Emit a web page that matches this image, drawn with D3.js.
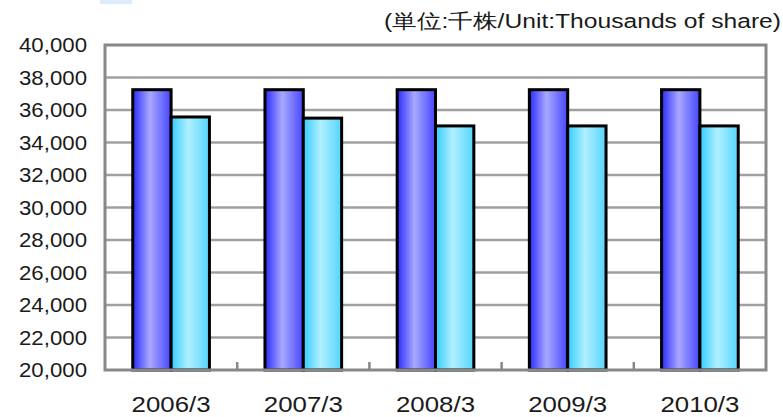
<!DOCTYPE html>
<html>
<head>
<meta charset="utf-8">
<script src="https://cdn.jsdelivr.net/npm/d3@7"></script>
<style>
  body { margin: 0; background: #fff; }
  text { font-family: "Liberation Sans", Arial, sans-serif; fill: #1a1a1a; }
</style>
</head>
<body>
<div id="chart"></div>
<script>
// Our canvas
const width = 783,
  height = 417,
  marginLeft = 105,
  marginRight = 17,
  marginTop = 45,
  marginBottom = 47

// data
const years = ['2006/3', '2007/3', '2008/3', '2009/3', '2010/3']
const issued = [37250, 37250, 37250, 37250, 37250]
const outstanding = [35570, 35500, 35020, 35020, 35020]
const yTicks = [20000, 22000, 24000, 26000, 28000, 30000, 32000, 34000, 36000, 38000, 40000]
const unitLabel = '(単位:千株/Unit:Thousands of share)'

const svg = d3.select('#chart')
  .append('svg')
  .attr('width', width)
  .attr('height', height)

// gradients for the bars
const defs = svg.append('defs')
let grad = (id, edgeL, mid, edgeR) => {
  const g = defs.append('linearGradient').attr('id', id)
    .attr('x1', '0%').attr('x2', '100%').attr('y1', '0%').attr('y2', '0%')
  g.append('stop').attr('offset', '0%').attr('stop-color', edgeL)
  g.append('stop').attr('offset', '45%').attr('stop-color', mid)
  g.append('stop').attr('offset', '100%').attr('stop-color', edgeR)
}
grad('gDark', '#2b2bff', '#a8a8ff', '#4646ff')
grad('gLight', '#33ccff', '#b0f0ff', '#55d4ff')

// small tab in the corner
svg.append('rect').attr('x', 100).attr('y', 0).attr('width', 32).attr('height', 4).attr('fill', '#dcecfb')

const x0 = d3.scaleBand()
  .domain(years)
  .range([marginLeft, width - marginRight])
  .paddingInner(0.42)
  .paddingOuter(0.21)

const x1 = d3.scaleBand()
  .domain(['issued', 'outstanding'])
  .range([0, x0.bandwidth()])

const y = d3.scaleLinear()
  .domain([20000, 40000])
  .range([height - marginBottom, marginTop])

// gridlines
svg.append('g')
  .selectAll('line')
  .data(yTicks.slice(1, -1))
  .enter()
  .append('line')
  .attr('x1', marginLeft)
  .attr('x2', width - marginRight)
  .attr('y1', d => y(d))
  .attr('y2', d => y(d))
  .attr('stroke', '#a0a0a0')
  .attr('stroke-width', 2.5)

// bars
const groups = svg.append('g')
  .selectAll('g')
  .data(years)
  .enter()
  .append('g')
  .attr('transform', d => `translate(${x0(d)},0)`)

groups.append('rect')
  .attr('x', x1('issued'))
  .attr('y', (d, i) => y(issued[i]))
  .attr('width', x1.bandwidth())
  .attr('height', (d, i) => y(20000) - y(issued[i]))
  .attr('fill', 'url(#gDark)')
  .attr('stroke', '#000')
  .attr('stroke-width', 3)

groups.append('rect')
  .attr('x', x1('outstanding'))
  .attr('y', (d, i) => y(outstanding[i]))
  .attr('width', x1.bandwidth())
  .attr('height', (d, i) => y(20000) - y(outstanding[i]))
  .attr('fill', 'url(#gLight)')
  .attr('stroke', '#000')
  .attr('stroke-width', 3)

// plot frame
svg.append('rect')
  .attr('x', marginLeft)
  .attr('y', marginTop)
  .attr('width', width - marginLeft - marginRight)
  .attr('height', height - marginTop - marginBottom)
  .attr('fill', 'none')
  .attr('stroke', '#888')
  .attr('stroke-width', 3)

// small ticks between categories
const step = x0.step()
svg.append('g')
  .selectAll('line')
  .data(years.slice(1))
  .enter()
  .append('line')
  .attr('x1', d => x0(d) - x0.paddingInner() * step / 2)
  .attr('x2', d => x0(d) - x0.paddingInner() * step / 2)
  .attr('y1', y(20000))
  .attr('y2', y(20000) - 8)
  .attr('stroke', '#888')
  .attr('stroke-width', 2.5)

// y axis labels
const yAxis = d3.axisLeft(y).tickValues(yTicks).tickSize(0).tickPadding(18)
  .tickFormat(d3.format(','))
const ya = svg.append('g')
  .attr('transform', `translate(${marginLeft},0)`)
  .call(yAxis)
ya.select('.domain').remove()
ya.selectAll('text')
  .attr('font-size', 21)
  .attr('font-family', '"Liberation Sans", Arial, sans-serif')
  .attr('fill', '#1a1a1a')
  .attr('textLength', 68)
  .attr('lengthAdjust', 'spacingAndGlyphs')

// x axis labels
const xAxis = d3.axisBottom(x0).tickSize(0).tickPadding(26)
const xa = svg.append('g')
  .attr('transform', `translate(0,${height - marginBottom})`)
  .call(xAxis)
xa.select('.domain').remove()
xa.selectAll('text')
  .attr('font-size', 22)
  .attr('font-family', '"Liberation Sans", Arial, sans-serif')
  .attr('fill', '#1a1a1a')
  .attr('textLength', 79)
  .attr('lengthAdjust', 'spacingAndGlyphs')

// unit label
svg.append('text')
  .attr('x', 781)
  .attr('y', 28)
  .attr('text-anchor', 'end')
  .attr('font-size', 20)
  .attr('textLength', 397)
  .attr('lengthAdjust', 'spacingAndGlyphs')
  .text(unitLabel)
</script>
</body>
</html>
